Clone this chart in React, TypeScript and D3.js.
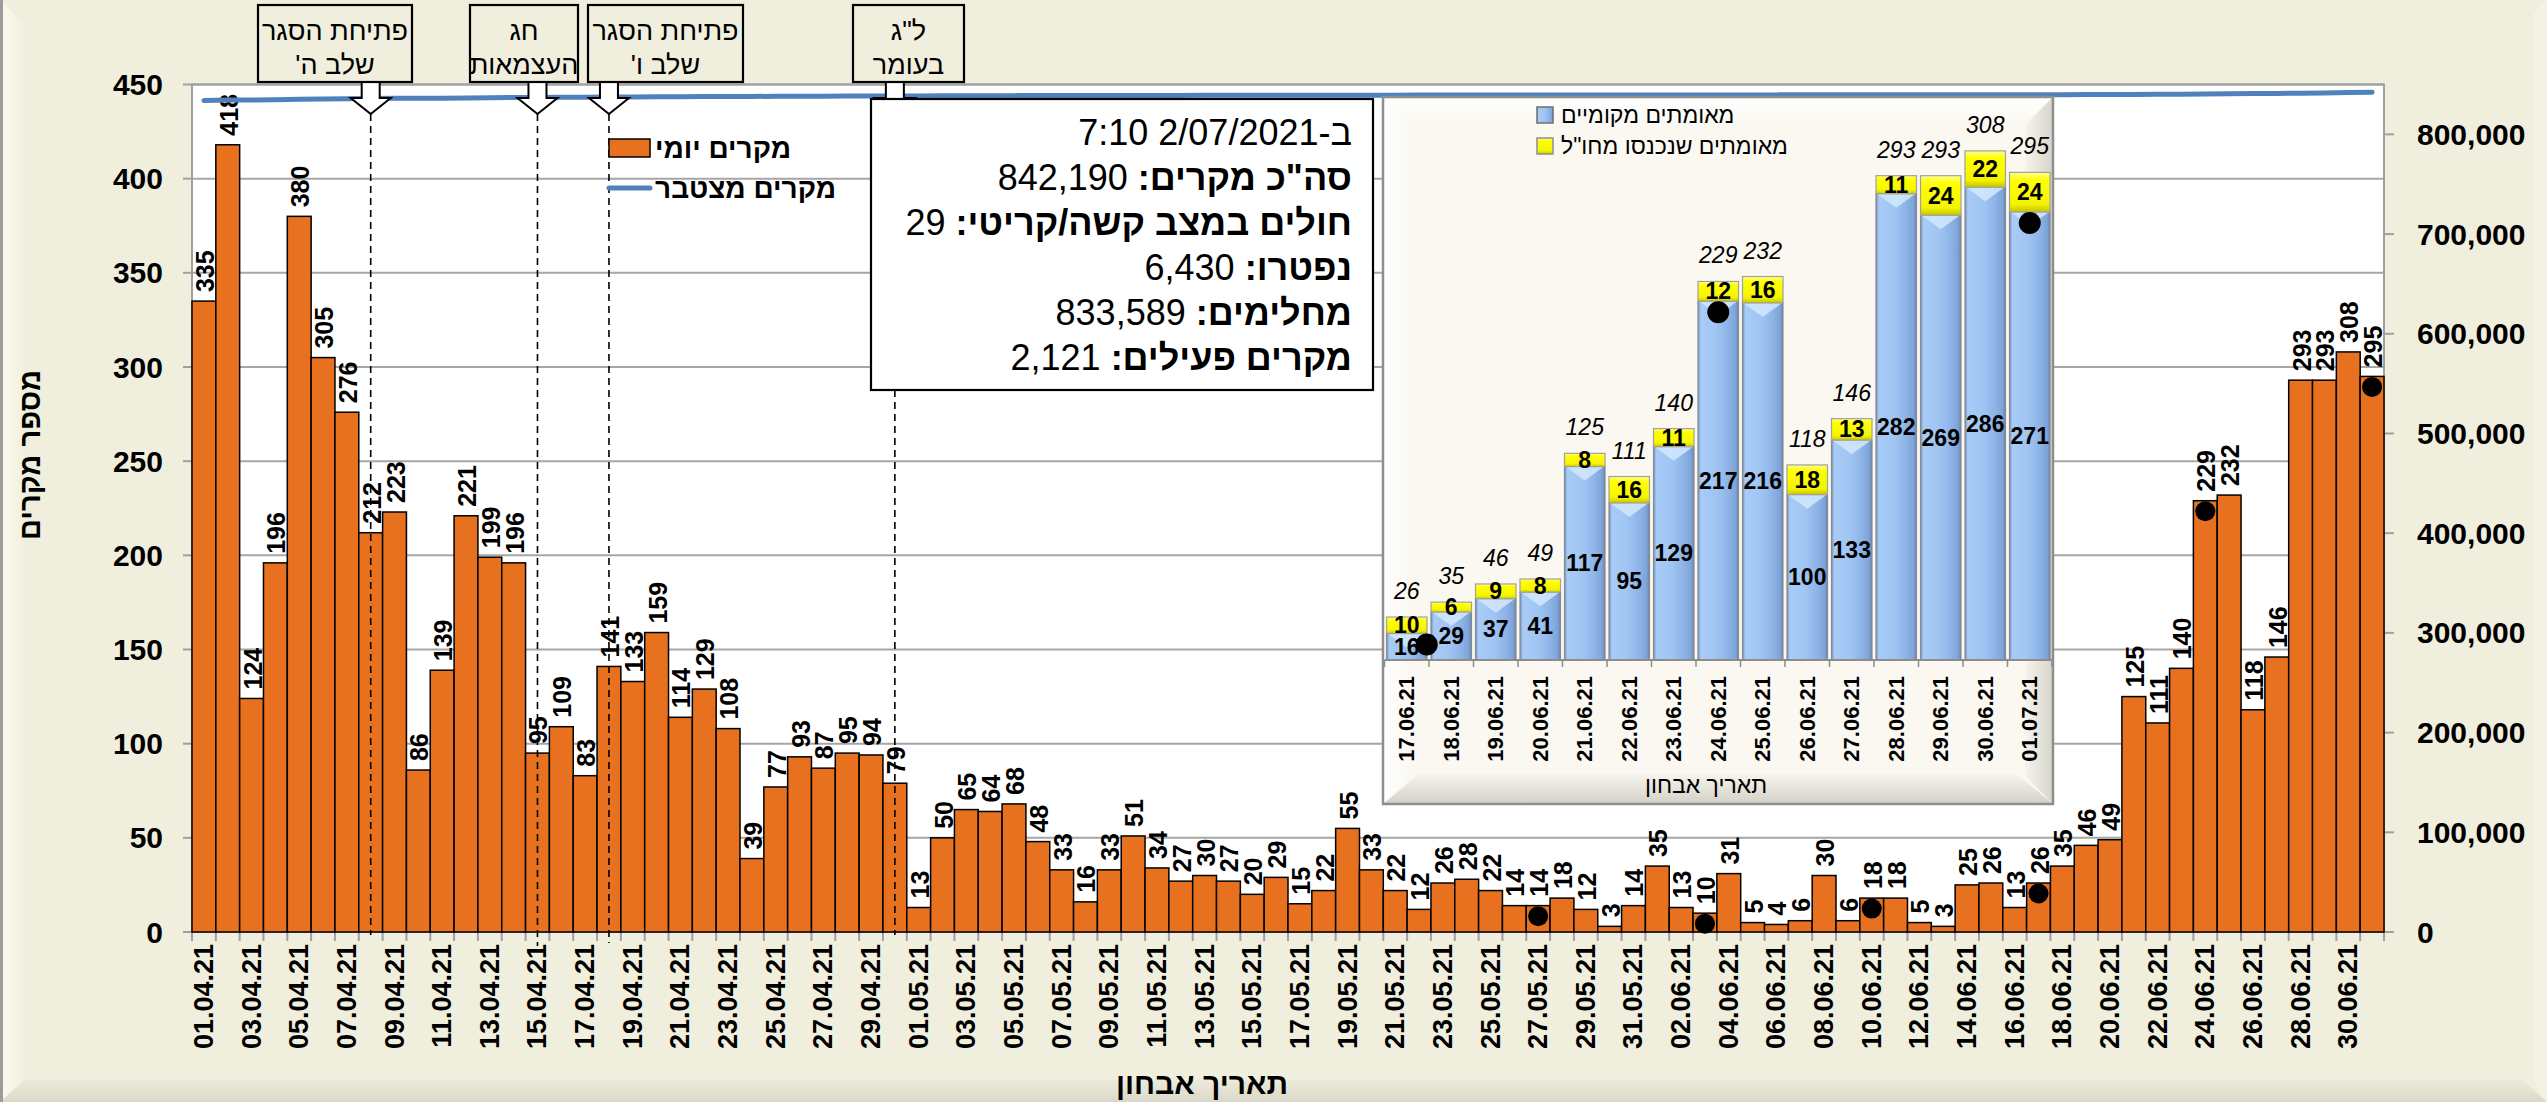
import React from "react";
import * as d3 from "d3";

// ---------------- DATA ----------------
const DAILY_CASES: number[] = [
  // April 2021
  335, 418, 124, 196, 380, 305, 276, 212, 223, 86,
  139, 221, 199, 196, 95, 109, 83, 141, 133, 159,
  114, 129, 108, 39, 77, 93, 87, 95, 94, 79,
  // May 2021
  13, 50, 65, 64, 68, 48, 33, 16, 33, 51,
  34, 27, 30, 27, 20, 29, 15, 22, 55, 33,
  22, 12, 26, 28, 22, 14, 14, 18, 12, 3, 14,
  // June 2021
  35, 13, 10, 31, 5, 4, 6, 30, 6, 18,
  18, 5, 3, 25, 26, 13, 26, 35, 46, 49,
  125, 111, 140, 229, 232, 118, 146, 293, 293, 308,
  // July 2021
  295,
];

const DATES: string[] = d3
  .timeDay.range(new Date(2021, 3, 1), new Date(2021, 6, 2))
  .map(d3.timeFormat("%d.%m.%y"));

// cumulative cases before 01.04.21 (total 842,190 on 01.07.21)
const CUMULATIVE_BEFORE = 833633;
const CUMULATIVE: number[] = Array.from(d3.cumsum(DAILY_CASES), (v) => CUMULATIVE_BEFORE + v);

const LEFT_TICKS = [0, 50, 100, 150, 200, 250, 300, 350, 400, 450];
const RIGHT_TICKS = [0, 100000, 200000, 300000, 400000, 500000, 600000, 700000, 800000];

const WEEK_MARKS = ["27.05.21", "03.06.21", "10.06.21", "17.06.21", "24.06.21", "01.07.21"];

const ANNOTATIONS = [
  { date: "08.04.21", lines: ["פתיחת הסגר", "שלב ה'"] },
  { date: "15.04.21", lines: ["חג", "העצמאות"] },
  { date: "18.04.21", lines: ["פתיחת הסגר", "שלב ו'"] },
  { date: "30.04.21", lines: ['ל"ג', "בעומר"] },
];

const INFO_HEADER = "ב-2/07/2021 7:10";
const INFO_LABELS = ['סה"כ מקרים:', "חולים במצב קשה/קריטי:", "נפטרו:", "מחלימים:", "מקרים פעילים:"];
const INFO_VALUES = ["842,190", "29", "6,430", "833,589", "2,121"];

const INSET_DATES = [
  "17.06.21", "18.06.21", "19.06.21", "20.06.21", "21.06.21", "22.06.21", "23.06.21", "24.06.21",
  "25.06.21", "26.06.21", "27.06.21", "28.06.21", "29.06.21", "30.06.21", "01.07.21",
];
const INSET_LOCAL = [16, 29, 37, 41, 117, 95, 129, 217, 216, 100, 133, 282, 269, 286, 271];
const INSET_ABROAD = [10, 6, 9, 8, 8, 16, 11, 12, 16, 18, 13, 11, 24, 22, 24];
const INSET_TOTAL = [26, 35, 46, 49, 125, 111, 140, 229, 232, 118, 146, 293, 293, 308, 295];
const INSET_MARKS = ["17.06.21", "24.06.21", "01.07.21"];

const LEGEND_MAIN = ["מקרים יומי", "מקרים מצטבר"];
const LEGEND_INSET = ["מאומתים מקומיים", 'מאומתים שנכנסו מחו"ל'];
const Y_TITLE = "מספר מקרים";
const X_TITLE = "תאריך אבחון";

// ---------------- LAYOUT ----------------
const W = 2547;
const H = 1102;
const PLOT = { left: 192, right: 2384, top: 84.5, bottom: 932 };
const BOXES = [
  { x0: 258, x1: 412, end: 935 },
  { x0: 470, x1: 578, end: 946 },
  { x0: 588, x1: 743, end: 943 },
  { x0: 853, x1: 964, end: 935 },
];
const INFO = { x0: 871, x1: 1373, y0: 99, y1: 390 };
const INSET = { left: 1383, top: 97, right: 2053, bottom: 804, base: 660 };
const INSET_MARK_DX = [20, 0, 0];
const FONT = "'Liberation Sans', Arial, Helvetica, sans-serif";
const ORANGE = "#E8711F";
const LINE_BLUE = "#4F81BD";
const RLM = "\u200F";

export default function App() {
  const x = d3.scaleBand<string>().domain(DATES).range([PLOT.left, PLOT.right]).padding(0);
  const bw = x.bandwidth();
  const cx = (d: string) => (x(d) as number) + bw / 2;
  const yL = d3.scaleLinear().domain([0, 450]).range([PLOT.bottom, PLOT.top]);
  const yR = d3.scaleLinear().domain([0, 850000]).range([PLOT.bottom, PLOT.top]);
  const fmt = d3.format(",");

  const cumLine = d3
    .line<number>()
    .x((_, i) => cx(DATES[i]))
    .y((d) => yR(d))(CUMULATIVE) as string;

  // inset scales
  const ix = d3
    .scaleBand<string>()
    .domain(INSET_DATES)
    .range([1384.5, 2052])
    .paddingInner(0.09)
    .paddingOuter(0.045);
  const iw = ix.bandwidth();
  const istep = ix.step();
  const iy = d3.scaleLinear().domain([0, 300]).range([INSET.base, INSET.base - 300 * 1.653]);

  const b = 28; // bevel
  const I = INSET;

  return (
    <svg
      width={W}
      height={H}
      style={{ position: "absolute", left: 0, top: 0, display: "block" }}
      fontFamily={FONT}
    >
      <defs>
        <linearGradient id="bgLeft" x1="0" x2="1" y1="0" y2="0">
          <stop offset="0" stopColor="#FBFAEE" />
          <stop offset="1" stopColor="#F2F0E0" />
        </linearGradient>
        <linearGradient id="bgBottom" x1="0" x2="0" y1="0" y2="1">
          <stop offset="0" stopColor="#ECEADA" />
          <stop offset="1" stopColor="#DAD9C9" />
        </linearGradient>
        <linearGradient id="inTop" x1="0" x2="0" y1="0" y2="1">
          <stop offset="0" stopColor="#FFFFFF" />
          <stop offset="1" stopColor="#FAF8F1" />
        </linearGradient>
        <linearGradient id="inLeft" x1="0" x2="1" y1="0" y2="0">
          <stop offset="0" stopColor="#FFFFFF" />
          <stop offset="1" stopColor="#FAF8F1" />
        </linearGradient>
        <linearGradient id="inBottom" x1="0" x2="0" y1="0" y2="1">
          <stop offset="0" stopColor="#F6F4EC" />
          <stop offset="1" stopColor="#D3D1C7" />
        </linearGradient>
        <linearGradient id="inRight" x1="0" x2="1" y1="0" y2="0">
          <stop offset="0" stopColor="#F6F4EC" />
          <stop offset="1" stopColor="#D6D4CA" />
        </linearGradient>
        <linearGradient id="blueBar" x1="0" x2="1" y1="0" y2="0">
          <stop offset="0" stopColor="#6F93C6" />
          <stop offset="0.07" stopColor="#A8CCF6" />
          <stop offset="0.45" stopColor="#A0C5F3" />
          <stop offset="0.72" stopColor="#8FB5E9" />
          <stop offset="0.93" stopColor="#7EA3D7" />
          <stop offset="1" stopColor="#6385B9" />
        </linearGradient>
        <linearGradient id="yellowBar" x1="0" x2="0" y1="0" y2="1">
          <stop offset="0" stopColor="#FFFF8C" />
          <stop offset="0.2" stopColor="#FFFF00" />
          <stop offset="0.8" stopColor="#F4F400" />
          <stop offset="1" stopColor="#C4C400" />
        </linearGradient>
      </defs>

      {/* background */}
      <rect x={0} y={0} width={W} height={H} fill="#F0EEDD" />
      <polygon points={`0,0 24,24 24,1080 0,${H}`} fill="url(#bgLeft)" />
      <polygon points={`0,${H} 24,1080 2523,1080 ${W},${H}`} fill="url(#bgBottom)" />
      <polygon points={`${W},0 2533,14 2533,1080 ${W},${H}`} fill="#F4F2E4" />
      <line x1={1.5} y1={0} x2={1.5} y2={H} stroke="#9C9C9C" strokeWidth={3} />

      {/* plot area */}
      <rect
        x={PLOT.left}
        y={PLOT.top}
        width={PLOT.right - PLOT.left}
        height={PLOT.bottom - PLOT.top}
        fill="#FFFFFF"
      />
      {LEFT_TICKS.filter((t) => t > 0).map((t) => (
        <line
          key={"g" + t}
          x1={PLOT.left}
          x2={PLOT.right}
          y1={yL(t)}
          y2={yL(t)}
          stroke="#A6A6A6"
          strokeWidth={2}
        />
      ))}
      <rect
        x={PLOT.left}
        y={PLOT.top}
        width={PLOT.right - PLOT.left}
        height={PLOT.bottom - PLOT.top}
        fill="none"
        stroke="#A0A0A0"
        strokeWidth={2}
      />

      {/* left axis */}
      {LEFT_TICKS.map((t) => (
        <g key={"lt" + t}>
          <line x1={PLOT.left - 9} x2={PLOT.left} y1={yL(t)} y2={yL(t)} stroke="#A0A0A0" strokeWidth={2} />
          <text
            x={163}
            y={yL(t)}
            textAnchor="end"
            dominantBaseline="central"
            fontSize={30}
            fontWeight="bold"
            fill="#000"
          >
            {t}
          </text>
        </g>
      ))}
      {/* right axis */}
      {RIGHT_TICKS.map((t) => (
        <g key={"rt" + t}>
          <line x1={PLOT.right} x2={PLOT.right + 10} y1={yR(t)} y2={yR(t)} stroke="#A0A0A0" strokeWidth={2} />
          <text
            x={2417}
            y={yR(t)}
            textAnchor="start"
            dominantBaseline="central"
            fontSize={30}
            fontWeight="bold"
            fill="#000"
          >
            {fmt(t)}
          </text>
        </g>
      ))}

      {/* x ticks and labels */}
      {DATES.map((d) => (
        <line
          key={"xt" + d}
          x1={x(d) as number}
          x2={x(d) as number}
          y1={PLOT.bottom}
          y2={PLOT.bottom + 9}
          stroke="#A0A0A0"
          strokeWidth={2}
        />
      ))}
      <line
        x1={PLOT.right}
        x2={PLOT.right}
        y1={PLOT.bottom}
        y2={PLOT.bottom + 9}
        stroke="#A0A0A0"
        strokeWidth={2}
      />
      {DATES.filter((_, i) => i % 2 === 0).map((d) => (
        <text
          key={"xl" + d}
          transform={`translate(${cx(d)},${PLOT.bottom + 12}) rotate(-90)`}
          textAnchor="end"
          dominantBaseline="central"
          fontSize={27}
          fontWeight="bold"
          fill="#000"
        >
          {d}
        </text>
      ))}

      {/* bars */}
      {DAILY_CASES.map((v, i) => (
        <rect
          key={"b" + i}
          x={x(DATES[i]) as number}
          y={yL(v)}
          width={bw}
          height={PLOT.bottom - yL(v)}
          fill={ORANGE}
          stroke="#000"
          strokeWidth={1.5}
        />
      ))}
      {DAILY_CASES.map((v, i) => (
        <text
          key={"bl" + i}
          transform={`translate(${cx(DATES[i]) + 1},${yL(v) - 9}) rotate(-90)`}
          textAnchor="start"
          dominantBaseline="central"
          fontSize={25}
          fontWeight="bold"
          fill="#000"
        >
          {v}
        </text>
      ))}
      {WEEK_MARKS.map((d) => {
        const v = DAILY_CASES[DATES.indexOf(d)];
        return <circle key={"m" + d} cx={cx(d)} cy={yL(v) + 10.5} r={10} fill="#000" />;
      })}

      {/* dashed event lines */}
      {ANNOTATIONS.map((a, k) => (
        <line
          key={"dl" + k}
          x1={cx(a.date)}
          x2={cx(a.date)}
          y1={114}
          y2={BOXES[k].end}
          stroke="#000"
          strokeWidth={1.6}
          strokeDasharray="7,5"
        />
      ))}

      {/* cumulative line */}
      <path d={cumLine} fill="none" stroke={LINE_BLUE} strokeWidth={5} strokeLinecap="round" />

      {/* annotation boxes and arrows */}
      {ANNOTATIONS.map((a, k) => {
        const ax = cx(a.date);
        const bx = BOXES[k];
        const mid = (bx.x0 + bx.x1) / 2;
        return (
          <g key={"ann" + k}>
            <path
              d={`M${ax - 9},82 L${ax + 9},82 L${ax + 9},98 L${ax + 20},98 L${ax},114 L${ax - 20},98 L${ax - 9},98 Z`}
              fill="#FFFFFF"
              stroke="#000"
              strokeWidth={2}
              strokeLinejoin="miter"
            />
            <rect x={bx.x0} y={5} width={bx.x1 - bx.x0} height={77} fill="#F0EEDD" stroke="#000" strokeWidth={2.2} />
            {a.lines.map((l, j) => (
              <text
                key={j}
                x={mid}
                y={31 + j * 34}
                direction="rtl"
                textAnchor="middle"
                dominantBaseline="central"
                fontSize={27}
                fill="#000"
              >
                {l}
              </text>
            ))}
          </g>
        );
      })}

      {/* main legend */}
      <rect x={609} y={139} width={41} height={18} fill={ORANGE} stroke="#000" strokeWidth={1.5} />
      <text x={655} y={148} direction="rtl" textAnchor="end" dominantBaseline="central" fontSize={28} fontWeight="bold" fill="#000">
        {LEGEND_MAIN[0]}
      </text>
      <line x1={609} x2={650} y1={188} y2={188} stroke={LINE_BLUE} strokeWidth={5} strokeLinecap="round" />
      <text x={655} y={188} direction="rtl" textAnchor="end" dominantBaseline="central" fontSize={28} fontWeight="bold" fill="#000">
        {LEGEND_MAIN[1]}
      </text>

      {/* info box */}
      <rect x={INFO.x0} y={INFO.y0} width={INFO.x1 - INFO.x0} height={INFO.y1 - INFO.y0} fill="#FFFFFF" stroke="#000" strokeWidth={2.2} />
      <text x={1352} y={145} direction="rtl" textAnchor="start" fontSize={36} fill="#000">
        {INFO_HEADER}
      </text>
      {INFO_LABELS.map((l, k) => (
        <text key={"info" + k} x={1352} y={190 + k * 45} textAnchor="end" fontSize={36} fill="#000">
          <tspan fontWeight="normal">{INFO_VALUES[k] + " "}</tspan>
          <tspan fontWeight="bold">{l + RLM}</tspan>
        </text>
      ))}

      {/* axis titles */}
      <text
        transform={`translate(30,455) rotate(-90)`}
        direction="rtl"
        textAnchor="middle"
        dominantBaseline="central"
        fontSize={29}
        fontWeight="bold"
        fill="#000"
      >
        {Y_TITLE}
      </text>
      <text x={1202} y={1083} direction="rtl" textAnchor="middle" dominantBaseline="central" fontSize={30} fontWeight="bold" fill="#000">
        {X_TITLE}
      </text>

      {/* ---------------- INSET ---------------- */}
      <g>
        <rect x={I.left} y={I.top} width={I.right - I.left} height={I.bottom - I.top} fill="#FAF8F1" />
        <polygon points={`${I.left},${I.top} ${I.right},${I.top} ${I.right - b},${I.top + b} ${I.left + b},${I.top + b}`} fill="url(#inTop)" />
        <polygon points={`${I.left},${I.top} ${I.left + b},${I.top + b} ${I.left + b},${I.bottom - b} ${I.left},${I.bottom}`} fill="url(#inLeft)" />
        <polygon points={`${I.right},${I.top} ${I.right},${I.bottom} ${I.right - b},${I.bottom - b} ${I.right - b},${I.top + b}`} fill="url(#inRight)" />
        <polygon points={`${I.left},${I.bottom} ${I.left + b + 8},${I.bottom - b - 2} ${I.right - b - 8},${I.bottom - b - 2} ${I.right},${I.bottom}`} fill="url(#inBottom)" />
        <rect x={I.left} y={I.top} width={I.right - I.left} height={I.bottom - I.top} fill="none" stroke="#8E8E8E" strokeWidth={2.5} />

        {/* inset legend */}
        <rect x={1537} y={107} width={16} height={16} fill="url(#blueBar)" stroke="#6F6F6F" strokeWidth={1.5} />
        <text x={1561} y={115} direction="rtl" textAnchor="end" dominantBaseline="central" fontSize={23} fill="#000">
          {LEGEND_INSET[0]}
        </text>
        <rect x={1537} y={138} width={16} height={16} fill="url(#yellowBar)" stroke="#8F8F8F" strokeWidth={1.5} />
        <text x={1561} y={146} direction="rtl" textAnchor="end" dominantBaseline="central" fontSize={23} fill="#000">
          {LEGEND_INSET[1]}
        </text>

        {/* inset bars */}
        {INSET_DATES.map((d, i) => {
          const bx = ix(d) as number;
          const yl = iy(INSET_LOCAL[i]);
          const yt = iy(INSET_LOCAL[i] + INSET_ABROAD[i]);
          const c = bx + iw / 2;
          return (
            <g key={"ib" + d}>
              <rect x={bx} y={yl} width={iw} height={INSET.base - yl} fill="url(#blueBar)" stroke="#8A8A8A" strokeWidth={1.2} />
              <polygon points={`${bx + 1},${yl} ${bx + iw - 1},${yl} ${c},${yl + 14}`} fill="#CFE6FC" opacity={0.9} />
              <rect x={bx} y={yt} width={iw} height={yl - yt} fill="url(#yellowBar)" stroke="#A0A0A0" strokeWidth={1.2} />
            </g>
          );
        })}
        <line x1={1384.5} x2={2052} y1={INSET.base} y2={INSET.base} stroke="#8C8C8C" strokeWidth={2} />
        {d3.range(INSET_DATES.length + 1).map((k) => (
          <line
            key={"it" + k}
            x1={1384.5 + k * istep}
            x2={1384.5 + k * istep}
            y1={INSET.base}
            y2={INSET.base + 7}
            stroke="#8C8C8C"
            strokeWidth={1.5}
          />
        ))}
        {INSET_DATES.map((d, i) => {
          const c = (ix(d) as number) + iw / 2;
          const yl = iy(INSET_LOCAL[i]);
          const yt = iy(INSET_LOCAL[i] + INSET_ABROAD[i]);
          return (
            <g key={"il" + d}>
              <text x={c} y={(yl + INSET.base) / 2} textAnchor="middle" dominantBaseline="central" fontSize={23} fontWeight="bold" fill="#000">
                {INSET_LOCAL[i]}
              </text>
              <text x={c} y={(yt + yl) / 2} textAnchor="middle" dominantBaseline="central" fontSize={23} fontWeight="bold" fill="#000">
                {INSET_ABROAD[i]}
              </text>
              <text x={c} y={iy(INSET_TOTAL[i]) - 18} textAnchor="middle" fontSize={23} fontStyle="italic" fill="#000">
                {INSET_TOTAL[i]}
              </text>
              <text
                transform={`translate(${c},676) rotate(-90)`}
                textAnchor="end"
                dominantBaseline="central"
                fontSize={22}
                fontWeight="bold"
                fill="#000"
              >
                {d}
              </text>
            </g>
          );
        })}
        {INSET_MARKS.map((d, k) => {
          const i = INSET_DATES.indexOf(d);
          const c = (ix(d) as number) + iw / 2 + INSET_MARK_DX[k];
          return <circle key={"im" + d} cx={c} cy={iy(INSET_LOCAL[i]) + 11} r={11} fill="#000" />;
        })}
        <text x={1706} y={785} direction="rtl" textAnchor="middle" dominantBaseline="central" fontSize={23} fill="#000">
          {X_TITLE}
        </text>
      </g>
    </svg>
  );
}
